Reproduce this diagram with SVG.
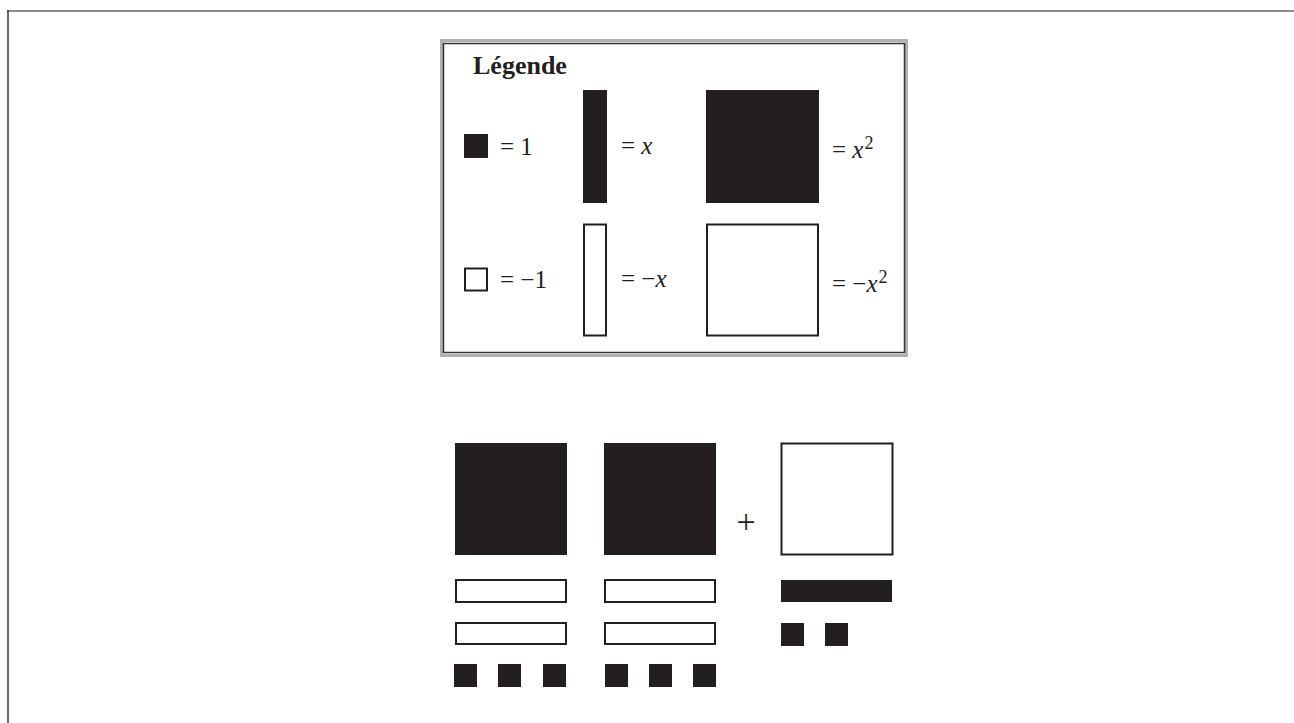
<svg xmlns="http://www.w3.org/2000/svg" width="1294" height="723" viewBox="0 0 1294 723">
<style>
.blk{fill:#231f20}
.wht{fill:#fff;stroke:#231f20;stroke-width:2}
.t{font-family:"Liberation Serif","Times New Roman",serif;font-size:25px;fill:#231f20}
.i{font-style:italic}
.sup{font-size:18px}
</style>
<rect width="1294" height="723" fill="#fff"/>
<g id="frame">
<line x1="7" y1="11" x2="1294" y2="11" stroke="#8c8c8c" stroke-width="2"/>
<line x1="8" y1="10" x2="8" y2="723" stroke="#3a3a3a" stroke-width="1.5"/>
</g>
<g id="legend">
<rect x="441.5" y="40.5" width="465" height="315" fill="#fff" stroke="#b0b0b0" stroke-width="3"/>
<rect x="443.5" y="43.5" width="461" height="309" fill="none" stroke="#333" stroke-width="1.5"/>
<text x="473" y="74" class="t" style="font-weight:bold;font-size:26px">Légende</text>
<g id="leg-one">
<rect x="464" y="134" width="24" height="24" class="blk"/>
<text x="500" y="155" class="t">= 1</text>
</g>
<g id="leg-x">
<rect x="583" y="90" width="24" height="113" class="blk"/>
<text x="621" y="154" class="t">= <tspan class="i">x</tspan></text>
</g>
<g id="leg-x2">
<rect x="706" y="90" width="113" height="113" class="blk"/>
<text x="832" y="158" class="t">= <tspan class="i">x</tspan><tspan class="sup" dx="1" dy="-9">2</tspan></text>
</g>
<g id="leg-neg-one">
<rect x="465" y="268.5" width="22" height="22" class="wht"/>
<text x="500" y="288" class="t">= −1</text>
</g>
<g id="leg-neg-x">
<rect x="584" y="224.5" width="22" height="111" class="wht"/>
<text x="621" y="287" class="t">= −<tspan class="i">x</tspan></text>
</g>
<g id="leg-neg-x2">
<rect x="707" y="224.5" width="111" height="111" class="wht"/>
<text x="832" y="292" class="t">= −<tspan class="i">x</tspan><tspan class="sup" dx="1" dy="-9">2</tspan></text>
</g>
</g>
<g id="group1">
<rect x="455" y="443" width="112" height="112" class="blk"/>
<rect x="456" y="580" width="110" height="22" class="wht"/>
<rect x="456" y="623" width="110" height="21" class="wht"/>
<rect x="454" y="664" width="23" height="23" class="blk"/>
<rect x="498" y="664" width="23" height="23" class="blk"/>
<rect x="543" y="664" width="23" height="23" class="blk"/>
</g>
<g id="group2">
<rect x="604" y="443" width="112" height="112" class="blk"/>
<rect x="605" y="580" width="110" height="22" class="wht"/>
<rect x="605" y="623" width="110" height="21" class="wht"/>
<rect x="605" y="664" width="23" height="23" class="blk"/>
<rect x="649" y="664" width="23" height="23" class="blk"/>
<rect x="693" y="664" width="23" height="23" class="blk"/>
</g>
<g id="plus">
<text x="746" y="533" class="t" style="font-size:34px" text-anchor="middle">+</text>
</g>
<g id="group3">
<rect x="781.5" y="443.5" width="111" height="111" class="wht"/>
<rect x="781" y="580" width="111" height="22" class="blk"/>
<rect x="781" y="623" width="23" height="23" class="blk"/>
<rect x="825" y="623" width="23" height="23" class="blk"/>
</g>
<g id="connectors"/>
</svg>
